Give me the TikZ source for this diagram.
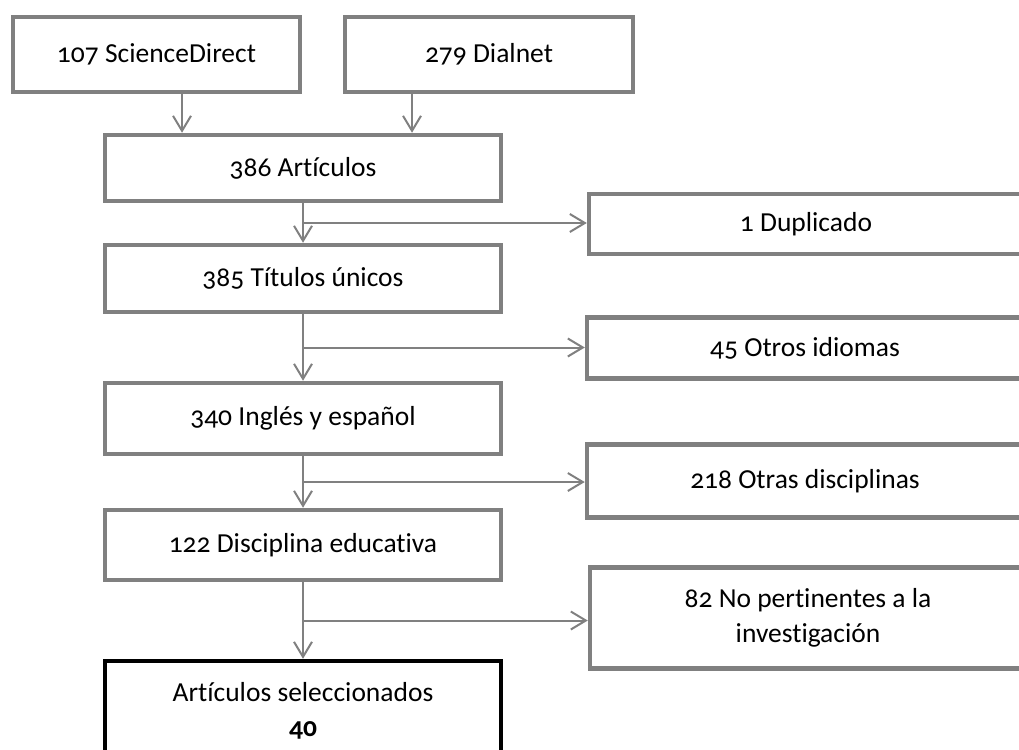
\documentclass[tikz,border=0pt]{standalone}
\usepackage{fontspec}
\setmainfont{Carlito}[Numbers=OldStyle,Ligatures=NoCommon]
\usetikzlibrary{arrows.meta,calc}
\definecolor{boxgray}{HTML}{808080}
\begin{document}
\begin{tikzpicture}[x=1pt,y=-1pt,
  box/.style={draw=boxgray, line width=4.5pt, fill=white, inner sep=0pt,
    align=center, font=\fontsize{27.5}{34.5}\selectfont},
  finalbox/.style={box, draw=black},
  conn/.style={draw=boxgray, line width=2pt, -{Straight Barb[length=15pt,width=18pt]}}]
\useasboundingbox (0,0) rectangle (1019,749);
\clip (0,0) rectangle (1019,749);
\fill[white] (0,0) rectangle (1019,749);
% main column
\node[box, minimum width=287pt, minimum height=75pt] (sd) at (156.5,54.5) {107 ScienceDirect};
\node[box, minimum width=288pt, minimum height=75pt] (dn) at (489,54.5) {279 Dialnet};
\node[box, minimum width=396pt, minimum height=66pt] (a386) at (303,168) {386 Artículos};
\node[box, minimum width=396pt, minimum height=67pt] (a385) at (303,278.5) {385 Títulos únicos};
\node[box, minimum width=396pt, minimum height=71pt] (a340) at (303,418.5) {340 Inglés y español};
\node[box, minimum width=396pt, minimum height=70pt] (a122) at (303,545) {122 Disciplina educativa};
\node[finalbox, minimum width=396pt, minimum height=100pt] (fin) at (303,711) {Artículos seleccionados\\\textbf{40}};
% side column
\node[box, minimum width=434pt, minimum height=60pt] (dup) at (806,224) {1 Duplicado};
\node[box, minimum width=436pt, minimum height=61pt] (idi) at (805,348) {45 Otros idiomas};
\node[box, minimum width=436pt, minimum height=73pt] (dis) at (805,481) {218 Otras disciplinas};
\node[box, minimum width=436pt, minimum height=101pt] (npe) at (808,618) {82 No pertinentes a la\\investigación};
% top connectors
\coordinate (c1) at (182,0);
\coordinate (c2) at (412,0);
\draw[conn] (sd.south -| c1) -- (a386.north -| c1);
\draw[conn] (dn.south -| c2) -- (a386.north -| c2);
% main connectors with branches
\draw[conn] (a386.south) -- (a385.north);
\coordinate (b1) at ($(a386.south)!0.5!(a385.north)$);
\draw[conn] (b1) -- (b1 -| dup.west);
\draw[conn] (a385.south) -- (a340.north);
\coordinate (b2) at ($(a385.south)!0.5!(a340.north)$);
\draw[conn] (b2) -- (b2 -| idi.west);
\draw[conn] (a340.south) -- (a122.north);
\coordinate (b3) at ($(a340.south)!0.5!(a122.north)$);
\draw[conn] (b3) -- (b3 -| dis.west);
\draw[conn] (a122.south) -- (fin.north);
\coordinate (b4) at ($(a122.south)!0.5!(fin.north)$);
\draw[conn] (b4) -- (b4 -| npe.west);
\end{tikzpicture}
\end{document}
